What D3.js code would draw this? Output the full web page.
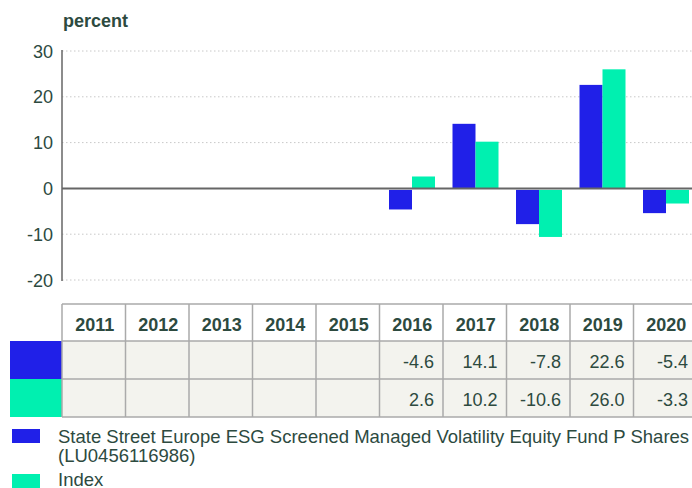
<!DOCTYPE html>
<html lang="en">
<head>
    <meta charset="UTF-8">
    <title>Annual performance</title>
    <script src="https://d3js.org/d3.v7.min.js"></script>
    <style>
        body { margin: 0; background: #fff; overflow: hidden; }
        text { font-family: "Liberation Sans", Arial, sans-serif; fill: #2d4a3f; }
        .grid line { stroke: #c8c8c8; stroke-dasharray: 1.5,2.5; }
    </style>
</head>
<body>
<script>

    // data
    const years = ['2011', '2012', '2013', '2014', '2015', '2016', '2017', '2018', '2019', '2020'];
    const seriesNames = [
        'State Street Europe ESG Screened Managed Volatility Equity Fund P Shares (LU0456116986)',
        'Index'
    ];
    const fundValues = [null, null, null, null, null, -4.6, 14.1, -7.8, 22.6, -5.4];
    const indexValues = [null, null, null, null, null, 2.6, 10.2, -10.6, 26.0, -3.3];
    const yTicks = [-20, -10, 0, 10, 20, 30];
    const colors = ['#2020e8', '#00f0b0'];

    const width = 692, height = 488;
    const svg = d3.select('body').append('svg')
        .attr('width', width)
        .attr('height', height);

    const plotLeft = 62, plotRight = 697, plotTop = 51, plotBottom = 280;

    const x = d3.scaleBand().domain(years).range([plotLeft, plotRight]);
    const bw = x.bandwidth();
    const x1 = d3.scaleBand().domain([0, 1]).range([9.5, bw - 8]);
    const y = d3.scaleLinear().domain([-20, 30]).range([plotBottom, plotTop]);

    // title
    svg.append('text')
        .attr('x', plotLeft + 1).attr('y', 27)
        .style('font-weight', 'bold').style('font-size', '18px')
        .text('percent');

    // grid
    svg.append('g').attr('class', 'grid')
        .selectAll('line')
        .data(yTicks.filter(d => d !== 0))
        .join('line')
        .attr('x1', plotLeft).attr('x2', width)
        .attr('y1', d => y(d)).attr('y2', d => y(d));

    // y axis labels
    svg.append('g')
        .selectAll('text')
        .data(yTicks)
        .join('text')
        .attr('x', 53).attr('y', d => y(d) + 6.5)
        .attr('text-anchor', 'end')
        .style('font-size', '18px')
        .text(d => d);

    // bars
    const rows = [fundValues, indexValues];
    rows.forEach((vals, i) => {
        svg.append('g')
            .selectAll('rect')
            .data(years.map((yr, j) => ({ yr, v: vals[j] })).filter(d => d.v !== null))
            .join('rect')
            .attr('x', d => x(d.yr) + x1(i))
            .attr('width', x1.bandwidth())
            .attr('y', d => d.v >= 0 ? y(d.v) : y(0) + 1.5)
            .attr('height', d => d.v >= 0 ? y(0) - y(d.v) : y(d.v) - y(0) - 1.5)
            .attr('fill', colors[i]);
    });

    // axis lines
    svg.append('line')
        .attr('x1', plotLeft).attr('x2', width)
        .attr('y1', y(0)).attr('y2', y(0))
        .attr('stroke', '#666').attr('stroke-width', 2);
    svg.append('line')
        .attr('x1', plotLeft).attr('x2', plotLeft)
        .attr('y1', plotTop - 1).attr('y2', plotBottom + 1)
        .attr('stroke', '#666').attr('stroke-width', 1.5);

    // table
    const tTop = 304, hH = 37, rH = 38;
    const table = svg.append('g');

    // row backgrounds
    rows.forEach((vals, i) => {
        const ry = tTop + hH + i * rH;
        table.append('rect')
            .attr('x', 10).attr('y', ry)
            .attr('width', plotLeft - 10).attr('height', rH)
            .attr('fill', colors[i]);
        table.append('rect')
            .attr('x', plotLeft).attr('y', ry)
            .attr('width', plotRight - plotLeft).attr('height', rH)
            .attr('fill', '#f3f3ee');
    });

    // horizontal borders
    [tTop, tTop + hH, tTop + hH + rH, tTop + hH + 2 * rH].forEach(ly => {
        table.append('line')
            .attr('x1', plotLeft).attr('x2', plotRight)
            .attr('y1', ly).attr('y2', ly)
            .attr('stroke', '#aaa').attr('stroke-width', 1.5);
    });
    // vertical borders
    years.concat(['end']).forEach((yr, j) => {
        const lx = plotLeft + j * bw;
        table.append('line')
            .attr('x1', lx).attr('x2', lx)
            .attr('y1', tTop).attr('y2', tTop + hH + 2 * rH)
            .attr('stroke', '#aaa').attr('stroke-width', 1.5);
    });

    // header text
    table.selectAll('.hdr')
        .data(years)
        .join('text')
        .attr('x', d => x(d) + bw / 2 + 1)
        .attr('y', tTop + 27)
        .attr('text-anchor', 'middle')
        .style('font-weight', 'bold').style('font-size', '18px')
        .text(d => d);

    // value text
    rows.forEach((vals, i) => {
        table.append('g')
            .selectAll('text')
            .data(years.map((yr, j) => ({ yr, v: vals[j] })).filter(d => d.v !== null))
            .join('text')
            .attr('x', d => x(d.yr) + bw - 9)
            .attr('y', tTop + hH + i * rH + 26.5)
            .attr('text-anchor', 'end')
            .style('font-size', '18px')
            .text(d => d.v.toFixed(1));
    });

    // legend
    const legend = svg.append('g');
    legend.append('rect').attr('x', 12).attr('y', 429).attr('width', 28).attr('height', 14).attr('fill', colors[0]);
    legend.append('rect').attr('x', 12).attr('y', 474).attr('width', 28).attr('height', 14).attr('fill', colors[1]);
    legend.append('text').attr('x', 58).attr('y', 443).style('font-size', '18.5px')
        .text('State Street Europe ESG Screened Managed Volatility Equity Fund P Shares');
    legend.append('text').attr('x', 58).attr('y', 462).style('font-size', '18.5px')
        .text('(LU0456116986)');
    legend.append('text').attr('x', 58).attr('y', 486).style('font-size', '18.5px')
        .text(seriesNames[1]);

</script>
</body>
</html>
